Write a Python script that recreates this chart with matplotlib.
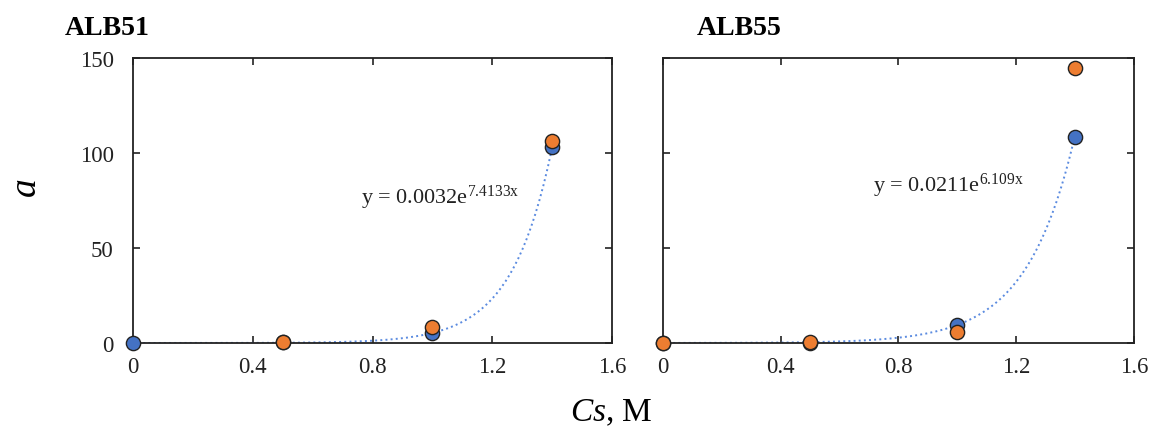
import numpy as np
import matplotlib.pyplot as plt

plt.rcParams['font.family'] = 'Liberation Serif'
plt.rcParams['mathtext.fontset'] = 'custom'
plt.rcParams['mathtext.rm'] = 'Liberation Serif'
plt.rcParams['mathtext.it'] = 'Liberation Serif:italic'

# ALB51
x51_blue = [0, 0.5, 1.0, 1.4]
y51_blue = [0, 0.3, 5.5, 103]
x51_orange = [0.5, 1.0, 1.4]
y51_orange = [0.7, 8.3, 106.5]
fit51 = (0.0032, 7.4133)

# ALB55
x55_blue = [0, 0.5, 1.0, 1.4]
y55_blue = [0, 0.2, 9.3, 108.5]
x55_orange = [0, 0.5, 1.0, 1.4]
y55_orange = [0, 0.4, 6.0, 145]
fit55 = (0.0211, 6.109)

blue = '#4472C4'
orange = '#ED7D31'

fig = plt.figure(figsize=(11.58, 4.39), dpi=100)
ax1 = fig.add_axes([0.1149, 0.2164, 0.4136, 0.6492])
ax2 = fig.add_axes([0.5725, 0.2164, 0.4067, 0.6492])


def draw(ax, xb, yb, xo, yo, fit, eq, eqpos, labels=True):
    xs = np.linspace(0, 1.4, 200)
    ax.plot(xs, fit[0] * np.exp(fit[1] * xs), ':', color='#5b8be0', lw=1.4, zorder=2)
    ax.scatter(xb, yb, s=105, color=blue, edgecolor='#222222', lw=1.0, zorder=3, clip_on=False)
    ax.scatter(xo, yo, s=105, color=orange, edgecolor='#222222', lw=1.0, zorder=4, clip_on=False)
    ax.set_xlim(0, 1.6)
    ax.set_ylim(0, 150)
    ax.set_xticks([0, 0.4, 0.8, 1.2, 1.6])
    ax.set_xticklabels(['0', '0.4', '0.8', '1.2', '1.6'])
    ax.set_yticks([0, 50, 100, 150])
    ax.tick_params(direction='in', top=True, right=True, length=5, width=1.2,
                   labelsize=16.5, pad=9, colors='#222222')
    ax.tick_params(axis='y', pad=14)
    if not labels:
        ax.tick_params(labelleft=False)
    for sp in ax.spines.values():
        sp.set_linewidth(1.3)
        sp.set_color('#222222')
    ax.text(eqpos[0], eqpos[1], eq, fontsize=16, color='#222222', transform=ax.transData)


draw(ax1, x51_blue, y51_blue, x51_orange, y51_orange, fit51,
     r'y = 0.0032e$^{\mathrm{7.4133x}}$', (0.76, 74))
draw(ax2, x55_blue, y55_blue, x55_orange, y55_orange, fit55,
     r'y = 0.0211e$^{\mathrm{6.109x}}$', (0.715, 80), labels=False)

fig.text(0.056, 0.92, 'ALB51', fontsize=20, fontweight='bold', va='baseline')
fig.text(0.602, 0.92, 'ALB55', fontsize=20, fontweight='bold', va='baseline')
fig.text(0.022, 0.575, 'a', fontsize=27, style='italic', rotation=90, ha='center', va='center')
fig.text(0.528, 0.04, r'$\mathit{Cs}$, M', fontsize=24, ha='center', va='baseline')

fig.savefig('out.png', dpi=100)
